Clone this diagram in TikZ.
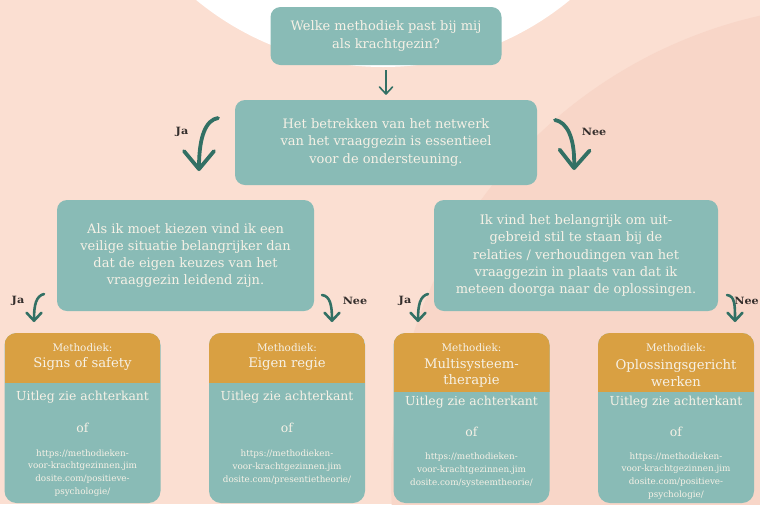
\documentclass[tikz,border=0pt]{standalone}
\usepackage{fontspec}
\setmainfont{DejaVu Serif}
\newfontfamily\answerfont[FakeStretch=1.12]{DejaVu Serif}
\usetikzlibrary{arrows.meta,positioning}
\definecolor{peach}{RGB}{251,223,210}
\definecolor{peachdark}{RGB}{248,214,200}
\definecolor{sea}{RGB}{137,187,182}
\definecolor{mustard}{RGB}{217,160,66}
\definecolor{pine}{RGB}{50,112,100}
\definecolor{cream}{RGB}{246,241,230}
\definecolor{ink}{RGB}{52,46,44}
\tikzset{
  q box/.style={fill=sea,rounded corners=10pt,text=cream,align=center,inner sep=0pt,
    font=\fontsize{13}{17.3}\selectfont},
  answer/.style={font=\answerfont\bfseries\fontsize{10}{11}\selectfont,text=ink},
  curl/.style={pine,line width=3.8pt,line cap=round,-{Straight Barb[length=18pt,width=30pt,round]}},
  small curl/.style={pine,line width=2.6pt,line cap=round,-{Straight Barb[length=8pt,width=15pt,round]}},
  card/.style={fill=sea,rounded corners=12pt,minimum width=156pt,minimum height=170pt,inner sep=0pt,
    path picture={\fill[mustard,sharp corners] (path picture bounding box.north west)
      rectangle ([yshift=-#1]path picture bounding box.north east);}},
  card/.default=50pt,
  card head/.style={text=cream,align=center,font=\fontsize{10.4}{15}\selectfont},
  card body/.style={text=cream,font=\fontsize{12.4}{15}\selectfont},
  card url/.style={text=cream,align=center,font=\fontsize{8.8}{12.8}\selectfont},
  title/.style={font=\fontsize{13.2}{16.5}\selectfont},
}

\begin{document}
\begin{tikzpicture}[x=1pt,y=-1pt]
  \clip (0,0) rectangle (760,504);
  % background
  \fill[peach] (0,0) rectangle (760,504);
  \fill[peachdark] (865,478) circle (474);
  \fill[white] (383,-227) circle (294);

  % questions
  \node[q box,minimum width=231pt,minimum height=58pt] (q) at (386,36)
    {Welke methodiek past bij mij\\als krachtgezin?};
  \node[q box,minimum width=302pt,minimum height=85pt] (net) at (386,142.5)
    {Het betrekken van het netwerk\\van het vraaggezin is essentieel\\voor de ondersteuning.};
  \node[q box,minimum width=257pt,minimum height=111pt] (safe) at (185.5,255.5)
    {Als ik moet kiezen vind ik een\\veilige situatie belangrijker dan\\dat de eigen keuzes van het\\vraaggezin leidend zijn.};
  \node[q box,minimum width=284pt,minimum height=111pt] (rel) at (576,255.5)
    {Ik vind het belangrijk om uit-\\gebreid stil te staan bij de\\relaties / verhoudingen van het\\vraaggezin in plaats van dat ik\\meteen doorga naar de oplossingen.};

  \draw[pine,line width=1.6pt,-{Straight Barb[length=7pt,width=13pt,round]},
    shorten <=5pt,shorten >=5pt] (q) -- (net);

  % answers
  \node[answer] (jaA) at (182,132) {Ja};
  \node[answer] (neeA) at (594,132) {Nee};
  \node[answer] (jaB) at (18,301) {Ja};
  \node[answer] (neeB) at (355,301) {Nee};
  \node[answer] (jaC) at (405,301) {Ja};
  \node[answer,anchor=east,inner xsep=1pt] (neeC) at (760,301) {Nee};

  \coordinate (jaAs) at (218,118);   \coordinate (jaAe) at (199,171);
  \coordinate (neeAs) at (555,120);  \coordinate (neeAe) at (574,170);
  \coordinate (jaBs) at (44,294);    \coordinate (jaBe) at (34,322);
  \coordinate (neeBs) at (322,295);  \coordinate (neeBe) at (332,322);
  \coordinate (jaCs) at (428,294);   \coordinate (jaCe) at (418,322);
  \coordinate (neeCs) at (727,295);  \coordinate (neeCe) at (735,322);

  \draw[curl] (jaAs) .. controls (206,120) and (199,136) .. (jaAe);
  \draw[curl] (neeAs) .. controls (567,122) and (575,138) .. (neeAe);
  \draw[small curl] (jaBs) .. controls (36,296) and (34,305) .. (jaBe);
  \draw[small curl] (neeBs) .. controls (330,296) and (332,305) .. (neeBe);
  \draw[small curl] (jaCs) .. controls (420,296) and (418,305) .. (jaCe);
  \draw[small curl] (neeCs) .. controls (735,296) and (735,305) .. (neeCe);

  % methodieken
  \node[card] (c1) at (82.5,418) {};
  \node[card] (c2) at (287,418) {};
  \node[card=59pt] (c3) at (471.5,418) {};
  \node[card=59pt] (c4) at (676,418) {};

  \node[card head] (m1) at (82.5,348) {Methodiek:};
  \node[card head] (m2) at (287,348) {Methodiek:};
  \node[card head] (m3) at (471.5,348) {Methodiek:};
  \node[card head] (m4) at (676,348) {Methodiek:};
  \node[card head,title] (h1) at (82.5,364) {Signs of safety};
  \node[card head,title] (h2) at (287,364) {Eigen regie};
  \node[card head,title] (h3) at (471.5,373) {Multisysteem-\\therapie};
  \node[card head,title] (h4) at (676,373) {Oplossingsgericht\\werken};

  \node[card body] (u1) at (82.5,397) {Uitleg zie achterkant};
  \node[card body] (u2) at (287,397) {Uitleg zie achterkant};
  \node[card body] (u3) at (471.5,402) {Uitleg zie achterkant};
  \node[card body] (u4) at (676,402) {Uitleg zie achterkant};

  \node[card body] (of1) at (82.5,428) {of};
  \node[card body] (of2) at (287,428) {of};
  \node[card body] (of3) at (471.5,432) {of};
  \node[card body] (of4) at (676,432) {of};

  \node[card url] (l1) at (82.5,473) {https://methodieken-\\voor-krachtgezinnen.jim\\dosite.com/positieve-\\psychologie/};
  \node[card url] (l2) at (287,467) {https://methodieken-\\voor-krachtgezinnen.jim\\dosite.com/presentietheorie/};
  \node[card url] (l3) at (471.5,470) {https://methodieken-\\voor-krachtgezinnen.jim\\dosite.com/systeemtheorie/};
  \node[card url] (l4) at (676,476) {https://methodieken-\\voor-krachtgezinnen.jim\\dosite.com/positieve-\\psychologie/};
\end{tikzpicture}
\end{document}
